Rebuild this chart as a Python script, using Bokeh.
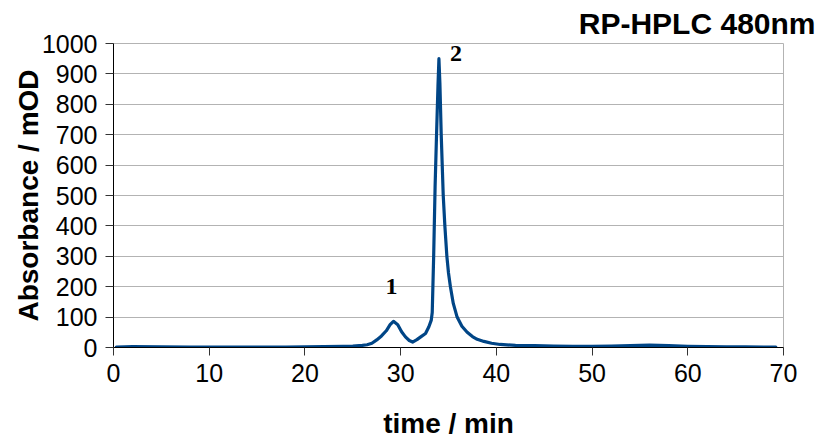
from bokeh.plotting import figure
from bokeh.models import Range1d, Label, FixedTicker
from bokeh.embed import file_html
from bokeh.resources import INLINE

# Chromatogram trace (time in min, absorbance in mOD)
time_min = [0.3, 2, 5, 8, 10, 12, 15, 18, 20, 22, 24, 25, 26, 26.5, 27, 27.5,
            28, 28.5, 28.9, 29.25, 29.7, 30.1, 30.5, 30.9, 31.25, 31.7, 32.1, 32.6,
            32.95, 33.2, 33.3, 33.45, 33.6, 33.75, 33.9, 34.0, 34.1, 34.24,
            34.45, 34.62, 34.83, 35.0, 35.2, 35.5, 35.9, 36.4, 36.95, 37.5,
            38.0, 38.7, 39.5, 40.4, 42, 44, 46, 48, 50, 52, 54, 56, 58, 60,
            62, 64, 66, 69.2]
absorbance = [1, 3, 2, 1, 1, 1, 1, 1, 2, 3, 4, 5, 7, 9, 14, 25,
              38, 55, 75, 86, 75, 52, 35, 23, 18, 26, 35, 46,
              68, 90, 115, 300, 530, 700, 860, 950, 870, 700,
              500, 400, 300, 245, 200, 145, 100, 70, 50, 36,
              27, 20, 14, 10, 7, 6, 5, 4, 4, 5, 6, 8, 6, 4,
              3, 2, 2, 1]

peak_labels = ["1", "2"]
peak_times = [29.25, 34.0]
peak_heights = [86, 950]

x_ticks = [0, 10, 20, 30, 40, 50, 60, 70]
y_ticks = [0, 100, 200, 300, 400, 500, 600, 700, 800, 900, 1000]

title_text = "RP-HPLC 480nm"
x_title = "time / min"
y_title = "Absorbance / mOD"

FONT = "Liberation Sans"

p = figure(width=817, height=441, output_backend="svg", toolbar_location=None,
           x_range=Range1d(0, 70), y_range=Range1d(0, 1000))
p.min_border_left = 113
p.min_border_right = 34
p.min_border_top = 43
p.min_border_bottom = 93
p.background_fill_color = "white"
p.border_fill_color = "white"
p.outline_line_color = "#b3b3b3"
p.outline_line_width = 1

p.title.text = title_text
p.title.align = "right"
p.title.text_font = FONT
p.title.text_font_style = "bold"
p.title.text_font_size = "30px"
p.title.text_color = "#000000"
p.title.offset = -32
p.title.standoff = 8

p.xgrid.visible = False
p.ygrid.grid_line_color = "#b3b3b3"
p.ygrid.grid_line_width = 1

p.xaxis.ticker = FixedTicker(ticks=x_ticks)
p.yaxis.ticker = FixedTicker(ticks=y_ticks)
for ax in (p.xaxis[0], p.yaxis[0]):
    ax.axis_line_color = "#000000"
    ax.major_tick_line_color = "#333333"
    ax.major_tick_out = 8
    ax.major_tick_in = 0
    ax.minor_tick_line_color = None
    ax.major_label_text_font = FONT
    ax.major_label_text_font_size = "25px"
    ax.major_label_text_color = "#000000"
    ax.major_label_standoff = 8
    ax.axis_label_text_font = FONT
    ax.axis_label_text_font_size = "28px"
    ax.axis_label_text_font_style = "bold"
    ax.axis_label_text_color = "#000000"
p.xaxis.axis_label = x_title
p.yaxis.axis_label = y_title
p.xaxis.axis_label_standoff = 23
p.yaxis.axis_label_standoff = -5

p.line(time_min, absorbance, line_color="#004586", line_width=3.2,
       line_join="round", line_cap="round")

# peak labels
offsets = [(-2, 35), (17, 5)]
for lab, t, h, (dx, dy) in zip(peak_labels, peak_times, peak_heights, offsets):
    p.add_layout(Label(x=t, y=h, x_offset=dx, y_offset=dy, text=lab,
                       text_font="Liberation Serif", text_font_style="bold",
                       text_font_size="24px", text_align="center",
                       text_baseline="middle", text_color="#000000"))

open("out.html", "w").write(file_html(p, INLINE))
